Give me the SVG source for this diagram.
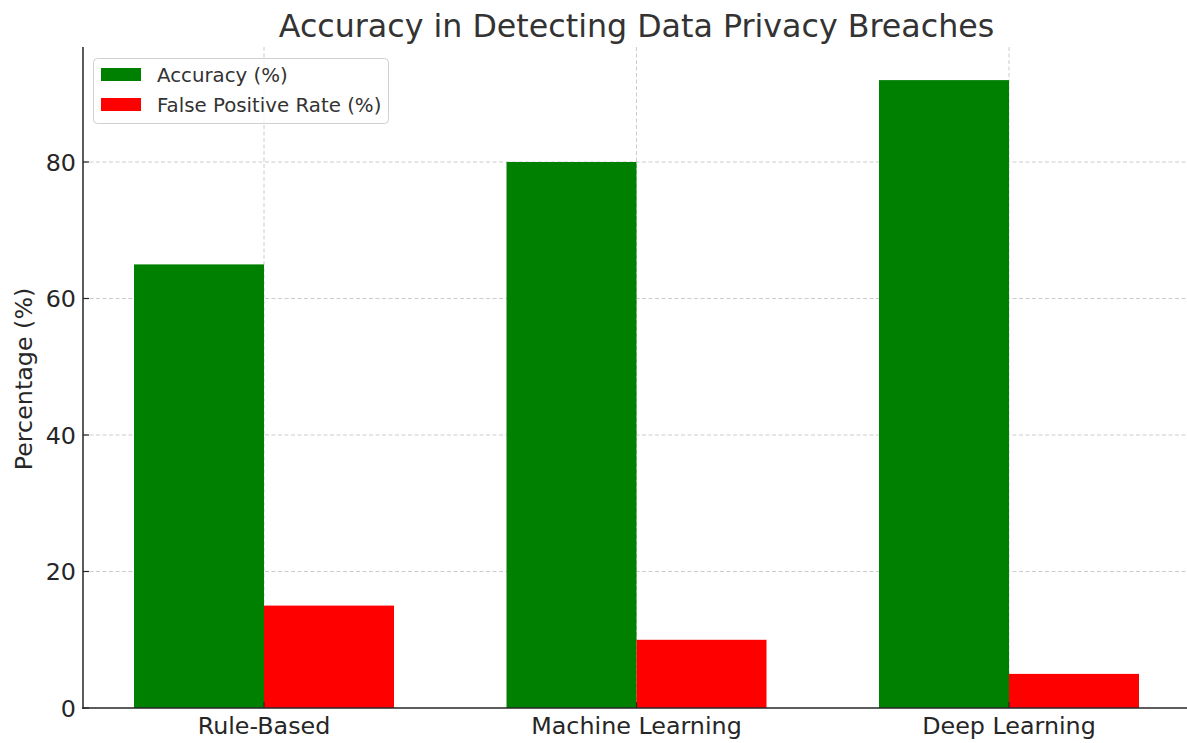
<svg xmlns="http://www.w3.org/2000/svg" width="1187" height="743" viewBox="0 0 1187 743">
<style>
text{font-family:"DejaVu Sans",sans-serif;fill:#262626}
.grid{stroke:#cccccc;stroke-width:1;stroke-dasharray:4,2.5}
.tick{stroke:#262626;stroke-width:1.2}
.tl{font-size:23.8px}
.acc{fill:#008000}
.fpr{fill:#ff0000}
</style>
<rect width="1187" height="743" fill="#ffffff"/>
<g id="grid">
<line class="grid" x1="83" y1="571.5" x2="1187" y2="571.5"/>
<line class="grid" x1="83" y1="435" x2="1187" y2="435"/>
<line class="grid" x1="83" y1="298.5" x2="1187" y2="298.5"/>
<line class="grid" x1="83" y1="162" x2="1187" y2="162"/>
<line class="grid" x1="264" y1="47" x2="264" y2="708"/>
<line class="grid" x1="636.5" y1="47" x2="636.5" y2="708"/>
<line class="grid" x1="1009" y1="47" x2="1009" y2="708"/>
</g>
<g id="bars">
<rect class="acc" x="134" y="264.4" width="130" height="443.6"/>
<rect class="fpr" x="264" y="605.6" width="130" height="102.4"/>
<rect class="acc" x="506.5" y="162" width="130" height="546"/>
<rect class="fpr" x="636.5" y="639.8" width="130" height="68.2"/>
<rect class="acc" x="879" y="80.1" width="130" height="627.9"/>
<rect class="fpr" x="1009" y="673.9" width="130" height="34.1"/>
</g>
<g id="axes">
<line x1="83" y1="47" x2="83" y2="709" stroke="#262626" stroke-width="1.5"/>
<line x1="82.3" y1="708" x2="1187" y2="708" stroke="#262626" stroke-width="1.5"/>
<line class="tick" x1="83" y1="708" x2="89" y2="708"/>
<line class="tick" x1="83" y1="571.5" x2="89" y2="571.5"/>
<line class="tick" x1="83" y1="435" x2="89" y2="435"/>
<line class="tick" x1="83" y1="298.5" x2="89" y2="298.5"/>
<line class="tick" x1="83" y1="162" x2="89" y2="162"/>
<line class="tick" x1="264" y1="708" x2="264" y2="702"/>
<line class="tick" x1="636.5" y1="708" x2="636.5" y2="702"/>
<line class="tick" x1="1009" y1="708" x2="1009" y2="702"/>
<text class="tl" x="76" y="716.5" text-anchor="end">0</text>
<text class="tl" x="76" y="580" text-anchor="end">20</text>
<text class="tl" x="76" y="443.5" text-anchor="end">40</text>
<text class="tl" x="76" y="307" text-anchor="end">60</text>
<text class="tl" x="76" y="170.5" text-anchor="end">80</text>
<text class="tl" x="264" y="734" text-anchor="middle">Rule-Based</text>
<text class="tl" x="636.5" y="734" text-anchor="middle">Machine Learning</text>
<text class="tl" x="1009" y="734" text-anchor="middle">Deep Learning</text>
<text class="tl" x="0" y="0" text-anchor="middle" transform="translate(32,379) rotate(-90)">Percentage (%)</text>
</g>
<g id="title">
<text x="636.5" y="37" text-anchor="middle" font-size="31.7" style="fill:#333333">Accuracy in Detecting Data Privacy Breaches</text>
</g>
<g id="legend">
<rect x="93.5" y="58.5" width="295" height="65" rx="4" fill="#ffffff" fill-opacity="0.8" stroke="#d0d0d0" stroke-width="1"/>
<rect class="acc" x="101" y="68" width="40" height="13"/>
<rect class="fpr" x="101" y="98" width="40" height="13"/>
<text x="157" y="82" font-size="19.8" style="fill:#333333">Accuracy (%)</text>
<text x="157" y="112" font-size="19.8" style="fill:#333333">False Positive Rate (%)</text>
</g>
</svg>
